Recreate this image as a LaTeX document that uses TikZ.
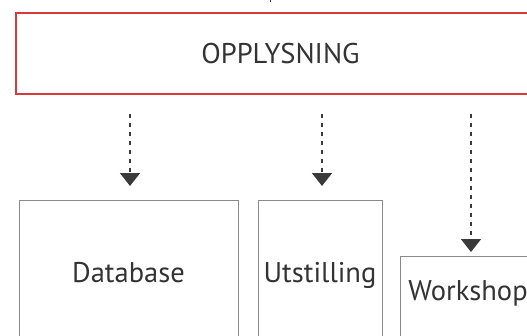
\documentclass[tikz,border=0pt]{standalone}
\usepackage{fontspec}
\setmainfont{PT Sans}
\usetikzlibrary{arrows.meta}
\definecolor{rod}{HTML}{D9393B}
\definecolor{strek}{HTML}{3A3A3A}
\definecolor{ramme}{HTML}{8A8A8A}
\definecolor{tekst}{HTML}{333333}
\begin{document}
\begin{tikzpicture}[x=1pt, y=-1pt,
		tittel/.style={draw=rod, line width=2pt, minimum width=529pt, minimum height=81pt,
			font=\fontsize{28.5}{30}\selectfont, text=tekst},
		boks/.style={draw=ramme, line width=1pt, anchor=north, font=\fontsize{28.5}{30}\selectfont,
			text=tekst, text height=20pt, text depth=120pt},
		pil/.style={strek, line width=1.8pt, dash pattern=on 4pt off 5pt,
			-{Triangle[width=20pt, length=13pt]}}]
			\useasboundingbox (0, 0) rectangle (527, 335);
			\clip (0, 0) rectangle (527, 335);
			\node[tittel] (opp) at (280.5, 53.5) {OPPLYSNING};
			\node[boks, minimum width=219pt, inner ysep=62pt] (data) at (128.5, 200) {Database};
			\node[boks, minimum width=124pt, inner ysep=62pt] (utst) at (320, 200) {Utstilling};
			\node[boks, minimum width=134pt, inner ysep=24pt, inner xsep=8pt] (work) at (468, 256) {Workshop};
			\foreach \b/\s/\d in {data/14/1.5, utst/14/2, work/4/3}
				\draw[pil, shorten <=19pt, shorten >=\s pt]
					([xshift=\d pt]opp.south -| \b.north) -- ([xshift=\d pt]\b.north);
			\coordinate (topp) at (270, -6);
			\draw[strek, line width=1pt] (topp) -- (topp |- 0, 2);
		\end{tikzpicture}
\end{document}
